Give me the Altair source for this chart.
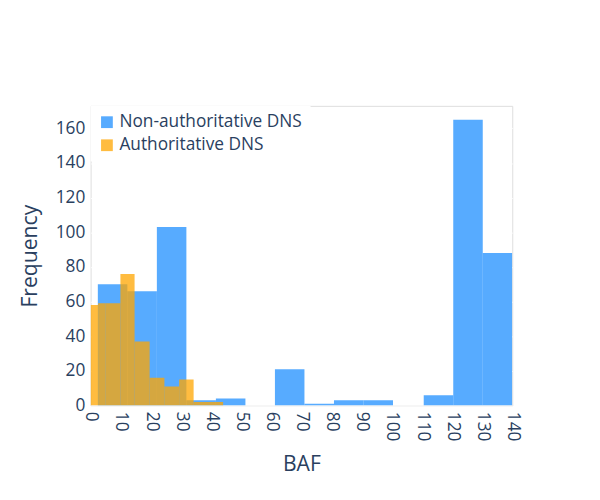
import altair as alt
import pandas as pd

blue_start = [2.4, 12.2, 22.0, 31.8, 41.6, 51.4, 61.2, 71.0, 80.8, 90.6, 100.4, 110.6, 120.4, 130.2]
blue_end   = [12.2, 22.0, 31.8, 41.6, 51.4, 61.2, 71.0, 80.8, 90.6, 100.4, 110.6, 120.4, 130.2, 140.0]
blue_cnt   = [70, 66, 103, 3, 4, 0, 21, 1, 3, 3, 0, 6, 165, 88]

or_start = [0, 2.5, 5.0, 9.9, 14.6, 19.6, 24.5, 29.4, 34.2, 39.0]
or_end   = [2.5, 5.0, 9.9, 14.6, 19.6, 24.5, 29.4, 34.2, 39.0, 44.0]
or_cnt   = [58, 59, 59, 76, 37, 16, 11, 15, 2, 2]

S1 = "Non-authoritative DNS"
S2 = "Authoritative DNS"
df = pd.concat([
    pd.DataFrame({"a": blue_start, "b": blue_end, "n": blue_cnt, "s": S1, "k": 1}),
    pd.DataFrame({"a": or_start, "b": or_end, "n": or_cnt, "s": S2, "k": 2}),
])

tc = "#2a3f5f"
chart = alt.Chart(df).mark_bar(opacity=0.75, clip=True).encode(
    x=alt.X("a:Q", title="BAF", scale=alt.Scale(domain=[0, 140], nice=False),
            axis=alt.Axis(values=list(range(0, 141, 10)), labelAngle=90, labelAlign="left",
                          labelBaseline="middle", grid=False, domain=False, ticks=False,
                          labelFontSize=18, titleFontSize=22, labelColor=tc, titleColor=tc,
                          titleFontWeight="normal", labelPadding=6, titlePadding=14)),
    x2="b:Q",
    y=alt.Y("n:Q", title="Frequency", stack=None, scale=alt.Scale(domain=[0, 173], nice=False),
            axis=alt.Axis(values=list(range(0, 161, 20)), gridColor="white", domain=False,
                          ticks=False, labelFontSize=18, titleFontSize=22, labelColor=tc,
                          titleColor=tc, titleFontWeight="normal", labelPadding=6, titlePadding=14)),
    y2=alt.datum(0),
    color=alt.Color("s:N", sort=[S1, S2],
                    scale=alt.Scale(domain=[S1, S2], range=["#1f8fff", "#ffa500"]),
                    legend=alt.Legend(title=None, orient="top-left", fillColor="white",
                                      labelFontSize=18, labelColor=tc, symbolType="square",
                                      symbolSize=150, symbolOpacity=0.75, padding=8,
                                      offset=0, labelLimit=300, rowPadding=6)),
    order=alt.Order("k:Q"),
).properties(width=439, height=312).configure_view(fill="#e5ecf6", strokeWidth=0).configure(
    font="Open Sans", padding={"left": 12, "top": 92, "right": 73, "bottom": 5})

chart.save("out.html", embed_options={"renderer": "svg", "actions": False})
